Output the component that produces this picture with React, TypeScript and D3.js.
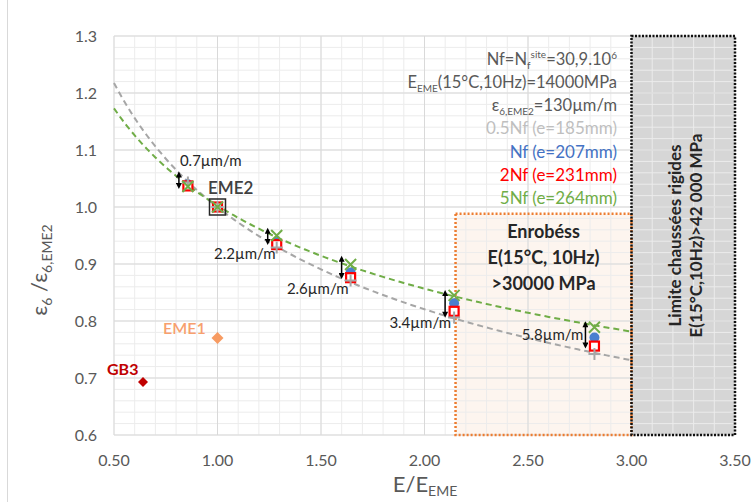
import React from 'react';
import * as d3 from 'd3';

// ---- data ----
const ratioE = [0.857, 1.0, 1.286, 1.643, 2.143, 2.821];
const halfNf = [1.043, 1.0, 0.929, 0.871, 0.806, 0.742];
const oneNf = [1.04, 1.0, 0.938, 0.885, 0.831, 0.771];
const twoNf = [1.037, 1.0, 0.934, 0.876, 0.817, 0.756];
const fiveNf = [1.036, 1.0, 0.950, 0.899, 0.845, 0.789];

const otherNames = ['EME1', 'GB3'];
const otherX = [1.0, 0.64];
const otherY = [0.77, 0.693];

// annotation arrows (between the 5Nf and 0.5Nf results)
const arrowTop = [1.06, 0.961, 0.912, 0.852, 0.797];
const arrowBottom = [1.034, 0.936, 0.876, 0.808, 0.754];
const deltaLabels = ['0.7µm/m', '2.2µm/m', '2.6µm/m', '3.4µm/m', '5.8µm/m'];

const xTicks = [0.5, 1.0, 1.5, 2.0, 2.5, 3.0, 3.5];
const yTicks = [0.6, 0.7, 0.8, 0.9, 1.0, 1.1, 1.2, 1.3];

const asphaltZone = [2.15, 3.0, 0.988]; // xStart, xEnd, yTop
const rigidZone = [3.0, 3.5];

// ---- layout ----
const W = 753;
const H = 502;
const M = { left: 114, right: 735, top: 36, bottom: 435 };
const FONT = 'Lato, "Open Sans", sans-serif';

const x = d3.scaleLinear().domain([0.5, 3.5]).range([M.left, M.right]);
const y = d3.scaleLinear().domain([0.6, 1.3]).range([M.bottom, M.top]);

function powerFit(xs: number[], ys: number[]) {
  const lx = xs.map(Math.log);
  const ly = ys.map(Math.log);
  const mx = d3.mean(lx)!;
  const my = d3.mean(ly)!;
  let num = 0, den = 0;
  lx.forEach((v, i) => { num += (v - mx) * (ly[i] - my); den += (v - mx) ** 2; });
  const b = num / den;
  const a = Math.exp(my - b * mx);
  return (v: number) => a * Math.pow(v, b);
}

const fitGray = powerFit(ratioE, halfNf);
const fitGreen = powerFit(ratioE, fiveNf);
const curveX = d3.range(0.5, 3.0001, 0.02);
const line = d3.line<number>().x((d) => x(d));

const GRAY = '#a6a6a6';
const BLUE = '#4a7fd0';
const RED = '#ff0000';
const GREEN = '#70ad47';
const TXT = '#595959';

export default function App() {
  const minorX = d3.range(0.5, 3.5001, 0.1);
  const minorY = d3.range(0.6, 1.3001, 0.02);
  const arrowX = ratioE.filter((_, i) => i !== 1).map((v) => x(v) - 9);
  const labelPos = [
    { dx: 1, dy: -12, anchor: 'start' },
    { dx: 8, dy: 10, anchor: 'end' },
    { dx: 7, dy: 11, anchor: 'end' },
    { dx: 6, dy: 6, anchor: 'end' },
    { dx: -2, dy: -12, anchor: 'end' },
  ];
  return (
    <svg width={W} height={H} style={{ position: 'absolute', left: 0, top: 0, background: '#fff' }}
      fontFamily={FONT}>
      <defs>
        <marker id="ah" viewBox="0 0 10 10" refX="6" refY="5" markerWidth="7" markerHeight="6"
          markerUnits="userSpaceOnUse" orient="auto-start-reverse">
          <path d="M0,0 L10,5 L0,10 z" fill="#000" />
        </marker>
      </defs>
      <line x1={7.5} x2={7.5} y1={0} y2={H} stroke="#d9d9d9" />
      {/* zones fills */}
      <rect x={x(asphaltZone[0])} y={y(asphaltZone[2])} width={x(asphaltZone[1]) - x(asphaltZone[0])}
        height={y(0.6) - y(asphaltZone[2])} fill="#fdf5ef" />
      <rect x={x(rigidZone[0])} y={y(1.3)} width={x(rigidZone[1]) - x(rigidZone[0])}
        height={y(0.6) - y(1.3)} fill="#d6d6d6" />
      {/* grid */}
      {minorX.map((v, i) => (
        <line key={'mx' + i} x1={x(v)} x2={x(v)} y1={M.top} y2={M.bottom} stroke="#ececec" strokeWidth={1} />
      ))}
      {minorY.map((v, i) => (
        <line key={'my' + i} x1={M.left} x2={M.right} y1={y(v)} y2={y(v)} stroke="#ececec" strokeWidth={1} />
      ))}
      {xTicks.map((v) => (
        <line key={'gx' + v} x1={x(v)} x2={x(v)} y1={M.top} y2={M.bottom} stroke="#d9d9d9" strokeWidth={1} />
      ))}
      {yTicks.map((v) => (
        <line key={'gy' + v} x1={M.left} x2={M.right} y1={y(v)} y2={y(v)} stroke="#d9d9d9" strokeWidth={1} />
      ))}
      {/* zone borders */}
      <rect x={x(asphaltZone[0])} y={y(asphaltZone[2])} width={x(asphaltZone[1]) - x(asphaltZone[0])}
        height={y(0.6) - y(asphaltZone[2])} fill="none" stroke="#ed7d31" strokeWidth={2.5} strokeDasharray="2 2" />
      <rect x={x(rigidZone[0])} y={y(1.3)} width={x(rigidZone[1]) - x(rigidZone[0])}
        height={y(0.6) - y(1.3)} fill="none" stroke="#111" strokeWidth={2.5} strokeDasharray="2 1.5" />
      {/* ticks */}
      {yTicks.map((v) => (
        <text key={'ty' + v} x={97} y={y(v)} dy="0.35em" textAnchor="end" fontSize={16} fill={TXT}>{v.toFixed(1)}</text>
      ))}
      {xTicks.map((v) => (
        <text key={'tx' + v} x={x(v)} y={466} textAnchor="middle" fontSize={16} fill={TXT}>{v.toFixed(2)}</text>
      ))}
      {/* axis titles */}
      <text x={425} y={492} textAnchor="middle" fontSize={22} fill={TXT}>
        E/E<tspan fontSize={14} dy={4}>EME</tspan>
      </text>
      <text transform="translate(47,270) rotate(-90)" textAnchor="middle" fontSize={22} fill={TXT}>
        ε<tspan fontSize={14} dy={5}>6</tspan><tspan dy={-5}> /ε</tspan><tspan fontSize={14} dy={5}>6,EME2</tspan>
      </text>
      {/* trend lines */}
      <path d={line.y((d) => y(fitGray(d)))(curveX)!} fill="none" stroke="#a6a6a6" strokeWidth={2} strokeDasharray="6 4" />
      <path d={line.y((d) => y(fitGreen(d)))(curveX)!} fill="none" stroke={GREEN} strokeWidth={2} strokeDasharray="6 4" />
      {/* EME2 box */}
      <rect x={x(1) - 8} y={y(1) - 8} width={16} height={16} fill="none" stroke="#262626" strokeWidth={1.5} />
      <text x={208} y={194} fontSize={17} fontWeight={600} fill="#404040">EME2</text>
      {/* markers */}
      {ratioE.map((v, i) => (
        <g key={'p' + i}>
          <circle cx={x(v)} cy={y(oneNf[i])} r={5} fill={BLUE} />
          <rect x={x(v) - 4.5} y={y(twoNf[i]) - 4.5} width={9} height={9} fill="#fff" stroke={RED} strokeWidth={2.2} />
          <path d={`M${x(v) - 6},${y(halfNf[i])}h12M${x(v)},${y(halfNf[i]) - 6}v12`} stroke={GRAY} strokeWidth={2} />
          <path d={`M${x(v) - 5.5},${y(fiveNf[i]) - 5.5}l11,11M${x(v) + 5.5},${y(fiveNf[i]) - 5.5}l-11,11`} stroke={GREEN} strokeWidth={2} />
        </g>
      ))}
      {/* other mixes */}
      {otherX.map((v, i) => {
        const c = i === 0 ? '#f79b62' : '#c00000';
        const s = i === 0 ? 6 : 5;
        return (
          <path key={'o' + i} d={`M${x(v)},${y(otherY[i]) - s}l${s},${s}l${-s},${s}l${-s},${-s}z`} fill={c} />
        );
      })}
      <text x={163} y={334} fontSize={16} fill="#f7a06e" fontWeight={600}>{otherNames[0]}</text>
      <text x={107} y={375} fontSize={16} fill="#c00000" fontWeight={700}>{otherNames[1]}</text>
      {/* arrows */}
      {arrowX.map((ax, i) => (
        <g key={'a' + i}>
          <line x1={ax} x2={ax} y1={y(arrowTop[i]) + 1} y2={y(arrowBottom[i]) - 1} stroke="#000" strokeWidth={1.5}
            markerStart="url(#ah)" markerEnd="url(#ah)" />
          <text x={ax + labelPos[i].dx}
            y={(i === 0 ? y(arrowTop[i]) : y(arrowBottom[i])) + labelPos[i].dy}
            dy="0.35em" textAnchor={labelPos[i].anchor as any} fontSize={15} fill="#262626">{deltaLabels[i]}</text>
        </g>
      ))}
      {/* legend block */}
      <g fontSize={16.5} textAnchor="end">
        <text x={617} y={65} fill={TXT}>
          Nf=N<tspan fontSize={10} dy={4}>f</tspan><tspan fontSize={10} dy={-11}>site</tspan>
          <tspan dy={7}>=30,9.10</tspan><tspan fontSize={10} dy={-6}>6</tspan>
        </text>
        <text x={617} y={88} fill={TXT}>
          E<tspan fontSize={10} dy={4}>EME</tspan><tspan dy={-4}>(15°C,10Hz)=14000MPa</tspan>
        </text>
        <text x={617} y={111} fill={TXT}>
          ε<tspan fontSize={10} dy={4}>6,EME2</tspan><tspan dy={-4}>=130µm/m</tspan>
        </text>
        <text x={617} y={134} fill="#bfbfbf" fontSize={17}>0.5Nf (e=185mm)</text>
        <text x={617} y={158} fill="#4472c4" fontSize={17}>Nf (e=207mm)</text>
        <text x={617} y={181} fill={RED} fontSize={17}>2Nf (e=231mm)</text>
        <text x={617} y={204} fill={GREEN} fontSize={17}>5Nf (e=264mm)</text>
      </g>
      {/* zone labels */}
      <g fontSize={18} fontWeight={700} fill="#262626" textAnchor="middle">
        <text x={(x(asphaltZone[0]) + x(asphaltZone[1])) / 2} y={238}>Enrobéss</text>
        <text x={(x(asphaltZone[0]) + x(asphaltZone[1])) / 2} y={264}>E(15°C, 10Hz)</text>
        <text x={(x(asphaltZone[0]) + x(asphaltZone[1])) / 2} y={290}>&gt;30000 MPa</text>
      </g>
      <g fontSize={17} fontWeight={700} fill="#262626" textAnchor="middle"
        transform={`translate(${(x(rigidZone[0]) + x(rigidZone[1])) / 2 + 1},${(y(1.3) + y(0.6)) / 2}) rotate(-90)`}>
        <text x={0} y={-3}>Limite chaussées rigides</text>
        <text x={0} y={18}>E(15°C,10Hz)&gt;42 000 MPa</text>
      </g>
    </svg>
  );
}
